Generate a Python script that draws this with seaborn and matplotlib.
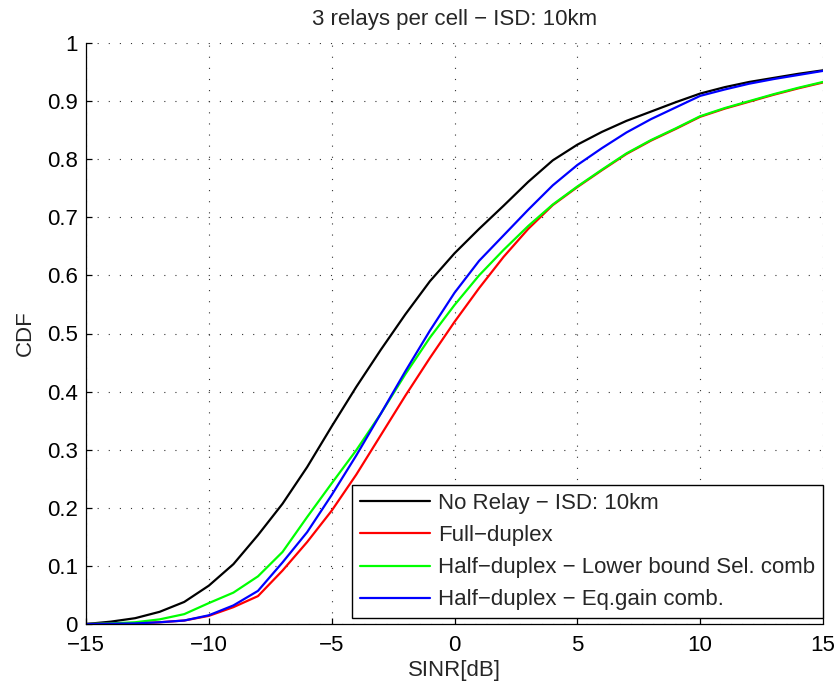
import numpy as np
import pandas as pd
import matplotlib
matplotlib.use("Agg")
import matplotlib.pyplot as plt
from matplotlib.ticker import FuncFormatter
import seaborn as sns

# ---- data ----
sinr_db = [-15, -14, -13, -12, -11, -10, -9, -8, -7, -6, -5, -4, -3, -2, -1, 0,
           1, 2, 3, 4, 5, 6, 7, 8, 9, 10, 11, 12, 13, 14, 15]
no_relay = [0.0, 0.004, 0.01, 0.021, 0.038, 0.066, 0.103, 0.153, 0.207, 0.27, 0.34,
            0.408, 0.472, 0.533, 0.59, 0.638, 0.68, 0.72, 0.761, 0.798, 0.825,
            0.847, 0.866, 0.882, 0.898, 0.913, 0.924, 0.933, 0.940, 0.947, 0.953]
full_duplex = [0.0, 0.0005, 0.001, 0.003, 0.006, 0.014, 0.029, 0.048, 0.092, 0.141,
               0.195, 0.257, 0.325, 0.393, 0.458, 0.52, 0.578, 0.632, 0.68, 0.721,
               0.752, 0.781, 0.809, 0.832, 0.852, 0.873, 0.887, 0.899, 0.911, 0.922, 0.932]
half_sel = [0.0, 0.001, 0.003, 0.008, 0.017, 0.036, 0.054, 0.082, 0.124, 0.184, 0.242,
            0.299, 0.362, 0.43, 0.493, 0.549, 0.6, 0.644, 0.685, 0.722, 0.753,
            0.782, 0.81, 0.833, 0.853, 0.874, 0.888, 0.9, 0.912, 0.923, 0.933]
half_egc = [0.0, 0.0005, 0.001, 0.003, 0.006, 0.015, 0.032, 0.057, 0.106, 0.158, 0.222,
            0.29, 0.362, 0.435, 0.505, 0.57, 0.625, 0.669, 0.713, 0.755, 0.79,
            0.819, 0.846, 0.869, 0.889, 0.909, 0.92, 0.93, 0.938, 0.945, 0.952]

labels = ["No Relay \u2212 ISD: 10km", "Full\u2212duplex",
          "Half\u2212duplex \u2212 Lower bound Sel. comb",
          "Half\u2212duplex \u2212 Eq.gain comb."]
colors = ["#000000", "#ff0000", "#00ff00", "#0000ff"]
x_ticks = [-15, -10, -5, 0, 5, 10, 15]
y_ticks = [0, 0.1, 0.2, 0.3, 0.4, 0.5, 0.6, 0.7, 0.8, 0.9, 1]

series = [no_relay, full_duplex, half_sel, half_egc]
df = pd.concat([pd.DataFrame({"SINR": sinr_db, "CDF": s, "curve": lab})
                for s, lab in zip(series, labels)], ignore_index=True)

sns.set_style("white")
plt.rcParams["font.family"] = ["Liberation Sans", "DejaVu Sans"]
FS = 16
plt.rcParams["font.size"] = FS

fig = plt.figure(figsize=(8.39, 6.88), dpi=100)
ax = fig.add_axes([86 / 839, 1 - 624 / 688, (823 - 86) / 839, (624 - 43) / 688])

sns.lineplot(data=df, x="SINR", y="CDF", hue="curve", hue_order=labels,
             palette=colors, linewidth=1.6, ax=ax, sort=False, estimator=None)

ax.set_xlim(-15, 15)
ax.set_ylim(0, 1)
ax.set_xticks(x_ticks)
ax.set_yticks(y_ticks)
ax.yaxis.set_major_formatter(FuncFormatter(lambda v, p: "%g" % v))
ax.xaxis.set_major_formatter(FuncFormatter(lambda v, p: ("%g" % v).replace("-", "\u2212")))
ax.grid(True, color="#333333", linestyle=(0, (1.0, 9)), linewidth=0.8)
ax.set_axisbelow(True)

for side in ["top", "right"]:
    ax.spines[side].set_visible(False)
for side in ["left", "bottom"]:
    ax.spines[side].set_color("black")
    ax.spines[side].set_linewidth(0.9)

ax.tick_params(axis="both", direction="in", length=4, width=0.9, colors="black",
               labelsize=FS, left=True, bottom=True)
ax.tick_params(axis="x", pad=8)
ax.tick_params(axis="y", pad=6)

ax.set_xlabel("SINR[dB]", fontsize=FS, labelpad=3)
ax.set_ylabel("CDF", fontsize=FS, labelpad=8)
ax.set_title("3 relays per cell \u2212 ISD: 10km", fontsize=FS, pad=13)

leg = ax.legend(loc="lower right", bbox_to_anchor=(1.0, 0.01), fontsize=FS,
                frameon=True, fancybox=False, framealpha=1, edgecolor="black",
                handlelength=3.15, handletextpad=0.36, labelspacing=0.5,
                borderpad=0.35, borderaxespad=0.0)
leg.get_frame().set_linewidth(1.0)
for line in leg.get_lines():
    line.set_linewidth(1.6)

fig.savefig("out.png", dpi=100, facecolor="white")
